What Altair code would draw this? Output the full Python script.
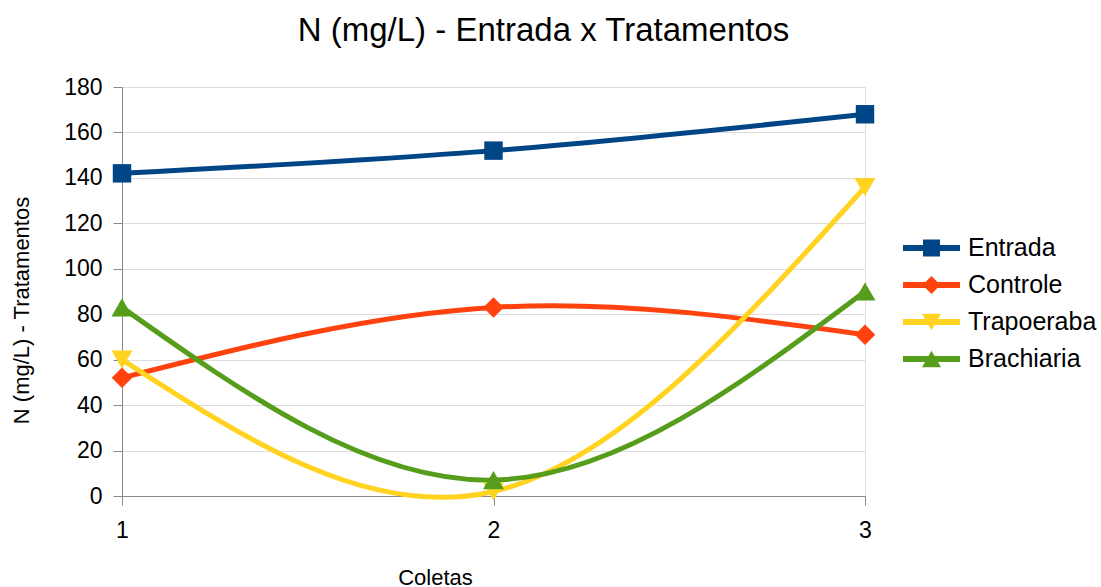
import altair as alt
import pandas as pd

# Data: nitrogen (mg/L) per collection for the inflow and each treatment
coletas = [1, 2, 3]
series = ["Entrada", "Controle", "Trapoeraba", "Brachiaria"]
entrada = [142, 152, 168]
controle = [52, 83, 71]
trapoeraba = [60, 2, 136]
brachiaria = [83, 7, 90]
y_ticks = [0, 20, 40, 60, 80, 100, 120, 140, 160, 180]

# Styles
colors = ["#004586", "#ff420e", "#ffd320", "#579d1c"]
point_shapes = ["square", "diamond", "triangle-down", "triangle-up"]
point_sizes = [340, 420, 441, 441]
legend_sizes = [289, 320, 361, 361]
font = "Liberation Sans"
grid = "#b3b3b3"

rows = []
for name, vals in zip(series, [entrada, controle, trapoeraba, brachiaria]):
    for c, v in zip(coletas, vals):
        rows.append({"Coletas": c, "Serie": name, "N": v})
df = pd.DataFrame(rows)
legend_df = pd.DataFrame({"Serie": series})

color_scale = alt.Scale(domain=series, range=colors)
color_enc = alt.Color("Serie:N", scale=color_scale, legend=None)
y_scale = alt.Scale(domain=[0, 180], nice=False, zero=True)

x_enc = alt.X(
    "Coletas:O",
    scale=alt.Scale(type="point", padding=0),
    axis=alt.Axis(
        labelAngle=0, grid=False, title="Coletas",
        titleX=313, titleY=81, titleBaseline="middle", titleAlign="center",
        titleFontSize=22, titleFontWeight="normal", labelFontSize=23,
        labelPadding=14, tickSize=9,
    ),
)
y_enc = alt.Y(
    "N:Q",
    scale=y_scale,
    axis=alt.Axis(
        values=y_ticks, title="N (mg/L) - Tratamentos",
        titleX=-101, titleY=223, titleAngle=-90, titleBaseline="middle",
        titleAlign="center", titleFontSize=22, titleFontWeight="normal",
        labelFontSize=23, labelPadding=11, tickSize=9, labelOverlap=False,
    ),
)

base = alt.Chart(df)

# Smoothed series lines
lines = base.mark_line(interpolate="natural", strokeWidth=5).encode(
    x=x_enc, y=y_enc, color=color_enc, detail="Serie:N",
)

# Markers, one shape per series
point_layers = []
for name, shp, sz in zip(series, point_shapes, point_sizes):
    point_layers.append(
        base.transform_filter(alt.datum.Serie == name)
        .mark_point(shape=shp, size=sz, filled=True, opacity=1, strokeWidth=0)
        .encode(x="Coletas:O", y="N:Q", color=color_enc)
    )

plot = alt.layer(lines, *point_layers)

# Legend on the right: line segment + marker + label per series
leg = alt.Chart(legend_df)
leg_y = alt.Y(
    "Serie:N",
    scale=alt.Scale(type="point", domain=series, range=[161, 272], padding=0),
    axis=None,
)
leg_line = leg.mark_rule(strokeWidth=6).encode(
    x=alt.value(781), x2=alt.value(838), y=leg_y, color=color_enc,
)
leg_marks = [
    leg.transform_filter(alt.datum.Serie == name)
    .mark_point(shape=shp, size=sz, filled=True, opacity=1, strokeWidth=0)
    .encode(x=alt.value(809.5), y=leg_y, color=color_enc)
    for name, shp, sz in zip(series, point_shapes, legend_sizes)
]
leg_text = leg.mark_text(
    align="left", baseline="middle", font=font, fontSize=25, color="black",
).encode(x=alt.value(846), y=leg_y, text="Serie:N")
legend = alt.layer(leg_line, *leg_marks, leg_text)

chart = (
    alt.layer(plot, legend)
    .resolve_scale(y="independent")
    .properties(
        width=743,
        height=409,
        padding={"left": 122, "top": 87, "right": 236, "bottom": 91},
        autosize=alt.AutoSizeParams(type="none"),
        title=alt.TitleParams(
            "N (mg/L) - Entrada x Tratamentos",
            font=font, fontSize=33, fontWeight="normal", color="black",
            anchor="middle", dx=50, offset=28,
        ),
    )
    .configure_view(stroke=grid, strokeWidth=1)
    .configure_axis(
        labelFont=font, titleFont=font, labelColor="black", titleColor="black",
        titleFontWeight="normal", gridColor=grid, domainColor=grid,
        tickColor=grid, gridWidth=1, domainWidth=1, tickWidth=1,
    )
    .configure(background="white")
)

chart.save("out.html", embed_options={"renderer": "svg", "actions": False})
